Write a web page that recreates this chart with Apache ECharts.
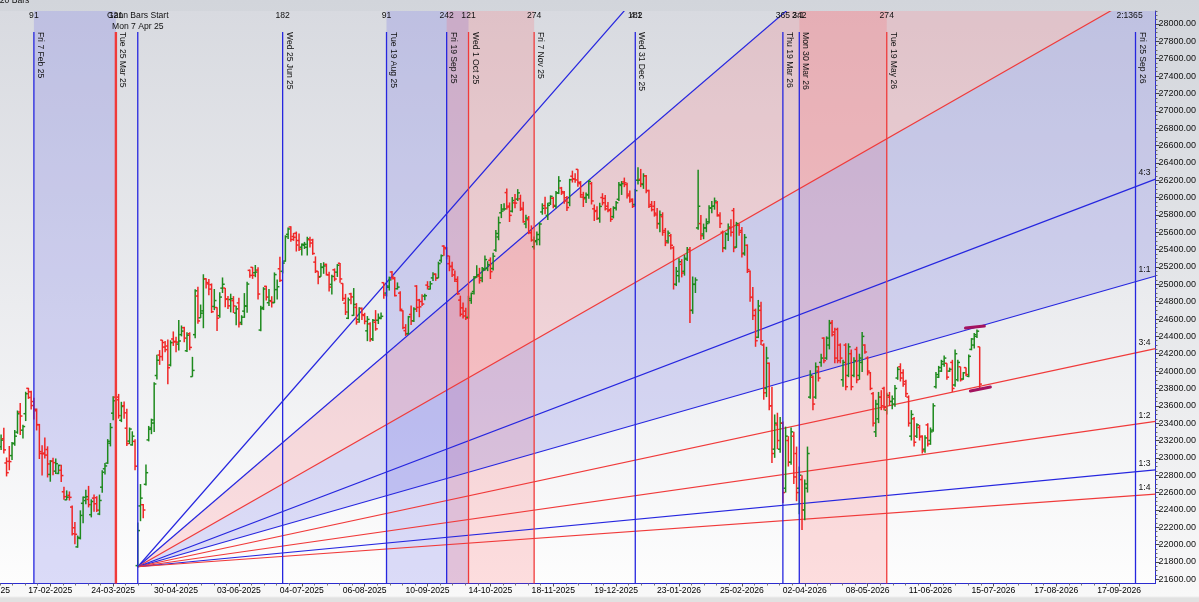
<!DOCTYPE html>
<html>
<head>
<meta charset="utf-8">
<title>Nifty Gann fan</title>
<script src="https://cdn.jsdelivr.net/npm/echarts@6.0.0/dist/echarts.min.js"></script>
<style>
  html, body { margin: 0; padding: 0; }
  body { width: 1199px; height: 602px; background: linear-gradient(to bottom, #d2d5db 0px, #f8f8f8 596px, #e1e1e1 598px, #e1e1e1 602px); }
  #chart { width: 1199px; height: 602px; }
</style>
</head>
<body>
<div id="chart"></div>
<script>
// daily OHLC bars, index 0 = first bar on the left (23 Jan 2025)
const opens = [
  23128,23220,22941,22960,23026,23169,23296,23528,23319,23509,
  23801,23761,23649,23543,23383,23050,23055,23096,22809,22963,
  22847,22821,22857,22609,22516,22568,22433,22194,21974,22073,
  22476,22508,22521,22345,22536,22541,22353,22662,22874,22940,
  23168,23515,23700,23700,23433,23600,23342,23193,23150,23190,
  21758,22446,22460,22695,23207,23344,23401,23949,24185,24357,
  24277,24289,24070,24370,24342,24311,24420,24500,24234,24431,
  23936,24420,24865,24614,24694,25064,25005,24996,24745,24733,
  24639,24956,24957,24832,24825,24812,24669,24786,24561,24691,
  24749,25161,25196,25134,25164,24473,24733,24977,24788,24803,
  24787,24939,25179,25150,25268,25576,25661,25551,25588,25505,
  25428,25450,25427,25514,25511,25256,25149,25089,25196,25230,
  25108,24999,25167,25140,25243,25010,24783,24609,24890,24642,
  24734,24596,24721,24641,24464,24544,24372,24563,24586,24607,
  25019,24899,24966,25142,25065,24949,24899,24695,24466,24432,
  24653,24579,24980,24819,24802,24864,24991,24945,25074,25118,
  25073,25276,25441,25410,25238,25209,25108,25035,24818,24729,
  24691,24620,24815,24917,25086,25094,25074,25168,25181,25277,
  25182,25394,25546,25824,25867,26057,25902,25843,25939,25982,
  25985,25863,25696,25744,25594,25433,25503,25517,25834,25907,
  25794,25936,25992,25900,26054,26110,26053,25998,25943,26246,
  26213,26325,26160,26005,26000,26030,26160,25870,25850,25760,
  26000,25990,25900,25860,25780,25880,25980,26140,26180,26150,
  26040,25980,25920,26200,26210,26150,26250,26080,25920,25900,
  25800,25700,25780,25620,25500,25560,25420,25000,25100,25230,
  25150,25290,25400,24700,25000,25650,25700,25580,25650,25720,
  25880,25900,25940,25790,25600,25420,25580,25650,25850,25430,
  25680,25620,25360,25450,25150,24850,24700,24390,24700,24300,
  23800,24090,23600,23100,23380,23100,23400,22650,23200,22950,
  23250,23050,22650,22750,22400,22650,23700,23930,23700,24000,
  24100,24380,24150,24300,24560,24450,24480,24300,23900,24300,
  23950,24200,23950,24250,23950,24100,24300,24150,23980,23740,
  23300,23450,23700,23800,23550,23700,23650,23620,23920,24050,
  23980,23880,23700,23250,23450,23250,23350,23250,23100,23380,
  23200,23320,23820,23930,24000,24080,24090,24000,24100,23840,
  23900,24050,23910,24040,23940,24250,24300,24400,24280
];
const highs = [
  23270,23348,23005,23137,23183,23322,23546,23632,23381,23762,
  23807,23773,23694,23569,23391,23144,23236,23133,22974,23000,
  22993,22923,22922,22668,22625,22613,22450,22262,22105,22395,
  22556,22633,22677,22522,22577,22558,22577,22858,22941,23216,
  23402,23709,23760,23737,23646,23649,23565,23350,23306,23214,
  22255,22698,22468,22924,23368,23452,23872,24189,24242,24359,
  24347,24365,24355,24457,24396,24589,24526,24510,24449,24447,
  24164,24944,24973,24767,25116,25070,25062,25010,24946,24737,
  24909,25079,24958,24864,24892,24864,24754,24845,24644,24899,
  25030,25170,25199,25223,25196,24754,24967,24983,24947,24863,
  25137,25057,25318,25266,25565,25655,25669,25593,25608,25587,
  25470,25489,25549,25548,25525,25322,25151,25245,25255,25238,
  25144,25111,25183,25233,25246,25011,24890,24848,24902,24957,
  24784,24736,24733,24672,24634,24562,24600,24703,24664,24674,
  25020,24992,25089,25154,25084,25022,24920,24702,24541,24636,
  24756,24737,24990,24832,24885,24892,25036,25037,25139,25125,
  25261,25345,25449,25428,25331,25261,25160,25093,24869,24791,
  24731,24868,24904,25095,25220,25190,25199,25331,25267,25310,
  25365,25625,25781,25926,25935,26104,25944,26006,26041,26097,
  26033,25953,25803,25787,25679,25551,25609,25715,25934,26010,
  25940,26025,26008,26075,26247,26123,26075,26018,26216,26310,
  26280,26326,26190,26066,26059,26202,26180,25920,25900,25940,
  26050,26030,25950,25880,25900,25960,26180,26190,26230,26170,
  26080,25990,26100,26350,26330,26280,26260,26090,25960,25960,
  25880,25850,25830,25650,25620,25580,25440,25200,25300,25290,
  25340,25430,25430,25090,25080,26320,25800,25700,25760,25910,
  25960,26000,25960,25830,25620,25600,25700,25750,25880,25720,
  25700,25660,25580,25460,25160,24970,24720,24820,24800,24320,
  24280,24100,23820,23500,23520,23470,23420,23360,23250,23350,
  23300,23130,22900,22800,22750,23130,24010,23950,24100,24060,
  24200,24390,24400,24590,24590,24500,24500,24320,24130,24320,
  24320,24250,24160,24280,24200,24450,24310,24170,23990,23760,
  23670,23760,23780,23820,23750,23760,23720,23840,24050,24090,
  24020,23900,23720,23550,23470,23400,23380,23260,23260,23400,
  23350,23630,23990,24060,24130,24180,24090,24040,24130,24250,
  24130,24050,23990,24040,24190,24380,24440,24480,24280
];
const lows = [
  23090,23050,22786,22857,22976,23139,23277,23264,23222,23424,
  23680,23556,23443,23316,22987,22798,22993,22774,22725,22801,
  22814,22812,22721,22518,22513,22508,22105,22004,21964,22060,
  22245,22464,22429,22314,22380,22377,22340,22599,22807,22930,
  23132,23433,23601,23452,23412,23450,23136,23158,23140,22857,
  21743,22270,22303,22680,23190,23273,23299,23903,24072,24119,
  24216,23848,24054,24290,24216,24238,24400,24331,24220,24240,
  23935,24378,24547,24613,24494,24953,24875,24669,24702,24463,
  24614,24900,24736,24717,24677,24669,24527,24502,24530,24613,
  24671,25077,25063,25082,24825,24460,24703,24813,24750,24733,
  24784,24825,25026,25126,25260,25523,25490,25501,25378,25384,
  25332,25407,25332,25424,25340,25130,25001,25088,25121,25102,
  24918,24882,25035,25085,25018,24807,24646,24599,24771,24636,
  24535,24556,24590,24539,24345,24338,24347,24465,24543,24597,
  24835,24859,24928,25055,24860,24940,24689,24481,24405,24420,
  24532,24567,24681,24621,24751,24815,24940,24940,25038,25040,
  25071,25250,25330,25287,25151,25084,25027,24878,24629,24606,
  24588,24605,24775,24882,25076,25008,25024,25156,25152,25061,
  25160,25376,25508,25763,25848,25862,25718,25828,25876,25960,
  25845,25711,25645,25578,25492,25400,25449,25449,25802,25809,
  25740,25913,25876,25875,26040,26030,25930,25845,25900,26173,
  26172,26124,25997,25891,25938,25985,25920,25730,25740,25710,
  25910,25850,25830,25720,25760,25850,25960,26030,26120,25990,
  25940,25880,25900,26150,26120,26100,26050,25880,25840,25780,
  25640,25600,25560,25440,25470,25400,24940,24980,25020,25080,
  25100,25270,24555,24660,24900,25630,25510,25520,25600,25700,
  25820,25860,25780,25650,25370,25400,25500,25550,25370,25420,
  25560,25310,25330,25130,24800,24590,24280,24380,24300,23670,
  23700,23550,22940,23000,23100,23060,22480,22600,22900,22920,
  22700,22500,22350,22170,22280,22600,23680,23550,23680,23880,
  24050,24090,24130,24250,24400,24090,24090,24090,23820,23780,
  23930,23780,23930,23860,23900,23990,24200,23950,23780,23360,
  23240,23400,23550,23550,23500,23600,23560,23590,23900,23880,
  23820,23700,23360,23200,23130,23230,23200,23050,23060,23130,
  23150,23300,23800,23920,23990,24050,23900,23990,23760,23820,
  23880,23880,23900,23940,23930,24240,24260,24380,23800
];
const closes = [
  23205,23092,22829,22957,23163,23250,23508,23482,23361,23739,
  23696,23603,23560,23382,23072,23046,23032,22930,22960,22945,
  22933,22913,22796,22553,22547,22545,22125,22119,22083,22337,
  22545,22553,22461,22497,22471,22397,22509,22834,22907,23191,
  23350,23658,23669,23487,23592,23519,23165,23332,23250,22904,
  22162,22536,22399,22829,23329,23437,23852,24125,24167,24329,
  24247,24039,24328,24336,24334,24347,24461,24380,24414,24273,
  24008,24925,24578,24667,25062,25020,24945,24684,24813,24610,
  24853,25001,24827,24752,24834,24751,24717,24543,24621,24751,
  25003,25103,25104,25141,24888,24718,24946,24853,24812,24793,
  25112,24972,25045,25245,25549,25638,25517,25542,25453,25406,
  25461,25461,25523,25476,25355,25150,25082,25196,25212,25112,
  24968,25091,25061,25220,25062,24837,24681,24821,24855,24768,
  24565,24723,24650,24574,24596,24363,24585,24487,24619,24631,
  24877,24980,25051,25083,24870,24968,24712,24501,24427,24625,
  24580,24715,24734,24741,24773,24869,24973,25006,25114,25069,
  25239,25330,25424,25327,25203,25170,25057,24891,24655,24635,
  24611,24836,24895,25077,25108,25046,25182,25285,25227,25146,
  25324,25586,25710,25844,25869,25891,25795,25966,25936,26054,
  25878,25722,25763,25598,25510,25492,25574,25695,25876,25879,
  25910,26013,25910,26052,26192,26068,25960,25885,26205,26216,
  26203,26176,26032,25986,26034,26186,25961,25840,25758,25898,
  25940,25870,25850,25750,25880,25940,26150,26160,26170,26020,
  25960,25900,26080,26200,26160,26250,26080,25900,25860,25820,
  25700,25800,25600,25480,25590,25450,25000,25150,25260,25130,
  25300,25400,24700,25000,25050,25900,25560,25650,25700,25880,
  25900,25960,25800,25700,25420,25580,25660,25600,25420,25700,
  25600,25350,25540,25170,24850,24640,24350,24750,24350,23750,
  24150,23600,23050,23400,23200,23400,22600,23250,22950,23300,
  22780,22600,22800,22400,22700,23050,23950,23620,24050,23920,
  24150,24120,24380,24550,24420,24150,24120,24150,24100,23820,
  24280,23820,24120,23900,24150,24400,24220,24000,23800,23400,
  23620,23700,23600,23580,23720,23650,23680,23800,24020,23920,
  23850,23740,23400,23500,23180,23380,23240,23080,23230,23160,
  23300,23600,23960,24040,24110,24150,23930,24020,23800,24200,
  24100,23900,23980,23960,24170,24370,24420,24460,23850
];

// x axis: date labels and the bar index each one sits under
const dateTickIdx = [18, 41, 64, 87, 110, 133, 156, 179, 202, 225, 248, 271, 294, 317, 340, 363, 386, 409];
const dateTicks = ['17-02-2025', '24-03-2025', '30-04-2025', '03-06-2025', '04-07-2025', '06-08-2025',
  '10-09-2025', '14-10-2025', '18-11-2025', '19-12-2025', '23-01-2026', '25-02-2026',
  '02-04-2026', '08-05-2026', '11-06-2026', '15-07-2026', '17-08-2026', '17-09-2026'];
const cutTick = '13-01-2025';   // label half off the left edge
// y axis labels
const priceTicks = [21600, 21800, 22000, 22200, 22400, 22600, 22800, 23000, 23200, 23400, 23600,
  23800, 24000, 24200, 24400, 24600, 24800, 25000, 25200, 25400, 25600, 25800, 26000,
  26200, 26400, 26600, 26800, 27000, 27200, 27400, 27600, 27800, 28000];

// time cycle lines
const cycleIdx = [12, 42, 50, 103, 141, 163, 171, 195, 232, 286, 292, 324, 415];
const cycleText = ['Fri 7 Feb 25', 'Tue 25 Mar 25', '', 'Wed 25 Jun 25', 'Tue 19 Aug 25', 'Fri 19 Sep 25',
  'Wed 1 Oct 25', 'Fri 7 Nov 25', 'Wed 31 Dec 25', 'Thu 19 Mar 26', 'Mon 30 Mar 26', 'Tue 19 May 26', 'Fri 25 Sep 26'];
const cycleCount = ['91', '121', '', '182', '91', '242', '121', '274', '182', '365', '242', '274', '365'];
const cycleRed = [0, 1, 0, 0, 0, 0, 1, 1, 0, 0, 0, 1, 0];
const gannLabel = ['Gann Bars Start', 'Mon 7 Apr 25'];
// shaded cycle windows, [from bar, to bar]
const blueWindows = [[12, 42], [141, 171]];
const redWindows = [[163, 195], [292, 324]];

// gann fan from the 7 Apr 25 low
const gannStart = [50, 21745];
const gannUnit = 9;   // points per bar on the 1:1 line
const fanNames = ['4:1', '3:1', '2:1', '4:3', '1:1', '3:4', '1:2', '1:3', '1:4'];
const fanRatio = [4, 3, 2, 4 / 3, 1, 0.75, 0.5, 1 / 3, 0.25];
const fanRed = [0, 0, 1, 0, 0, 1, 1, 0, 1];
const fanFills = [[1, 2], [2, 4]];   // shaded wedges between two fan lines

// two short marks by the last bars [bar1, price1, bar2, price2]
const marks = [[352.8, 24496, 359.7, 24519], [354.6, 23770, 361.9, 23816]];

const FONT = '8.6px "Liberation Sans", Arial, sans-serif';
const X_MIN = -0.4, X_MAX = 422.3;
const Y_MIN = 21552, Y_MAX = 28150;
const BLUE = '#2626df', RED = '#f03a3a';
const UP = '#1e8a1e', DOWN = '#f02626';
const AXIS = '#2b2bcf';
const fillColors = ['rgba(255,95,105,0.19)', 'rgba(95,95,230,0.2)'];

const chart = echarts.init(document.getElementById('chart'));

const fanValueAt = (m, i) => gannStart[1] + gannUnit * m * (i - gannStart[0]);

function renderWindow(params, api) {
  const a = api.coord([api.value(0), Y_MAX]);
  const b = api.coord([api.value(1), Y_MIN]);
  return {
    type: 'rect',
    shape: { x: a[0], y: a[1], width: b[0] - a[0], height: b[1] - a[1] },
    style: { fill: api.value(2) ? 'rgba(255,95,100,0.2)' : 'rgba(95,95,230,0.21)' }
  };
}

function renderFanFill(params, api) {
  const f = fanFills[params.dataIndex];
  const p0 = api.coord(gannStart);
  const pa = api.coord([X_MAX, fanValueAt(fanRatio[f[0]], X_MAX)]);
  const pb = api.coord([X_MAX, fanValueAt(fanRatio[f[1]], X_MAX)]);
  return { type: 'polygon', shape: { points: [p0, pa, pb] }, style: { fill: fillColors[params.dataIndex] } };
}

function renderFan(params, api) {
  const k = params.dataIndex;
  const m = fanRatio[k];
  const p0 = api.coord(gannStart);
  const endV = fanValueAt(m, X_MAX);
  const p1 = api.coord([X_MAX, endV]);
  let lx, ly, align;
  if (endV > Y_MAX) {
    // leaves through the top: label just right of the exit point
    const pe = api.coord([gannStart[0] + (Y_MAX - gannStart[1]) / (gannUnit * m), Y_MAX]);
    lx = pe[0] + 6; ly = pe[1] + 5; align = 'left';
  } else {
    lx = p1[0] - 5; ly = p1[1] - 6; align = 'right';
  }
  return {
    type: 'group',
    children: [
      { type: 'line', shape: { x1: p0[0], y1: p0[1], x2: p1[0], y2: p1[1] },
        style: { stroke: fanRed[k] ? RED : BLUE, lineWidth: 1.2 } },
      { type: 'text', x: lx, y: ly,
        style: { text: fanNames[k], font: FONT, fill: '#111', align: align, verticalAlign: 'middle' } }
    ]
  };
}

function renderBar(params, api) {
  const i = api.value(0);
  const o = api.value(1), c = api.value(4);
  const hi = api.coord([i, api.value(2)]);
  const lo = api.coord([i, api.value(3)]);
  const po = api.coord([i, o]);
  const pc = api.coord([i, c]);
  const st = { stroke: c >= o ? UP : DOWN, lineWidth: 1.5 };
  return {
    type: 'group',
    children: [
      { type: 'line', shape: { x1: hi[0], y1: hi[1], x2: lo[0], y2: lo[1] }, style: st },
      { type: 'line', shape: { x1: po[0] - 2.2, y1: po[1], x2: po[0], y2: po[1] }, style: st },
      { type: 'line', shape: { x1: pc[0], y1: pc[1], x2: pc[0] + 2.2, y2: pc[1] }, style: st }
    ]
  };
}

function renderCycle(params, api) {
  const k = params.dataIndex;
  const cs = params.coordSys;
  const x = api.coord([cycleIdx[k], Y_MAX])[0];
  const kids = [{
    type: 'line', shape: { x1: x, y1: cs.y + 21, x2: x, y2: cs.y + cs.height },
    style: { stroke: cycleRed[k] ? RED : BLUE, lineWidth: k === 1 ? 2.4 : 1.3 }
  }];
  if (cycleCount[k]) {
    kids.push({ type: 'text', x: x, y: cs.y + 5,
      style: { text: cycleCount[k], font: FONT, fill: '#111', align: 'center', verticalAlign: 'middle' } });
  }
  if (cycleText[k]) {
    kids.push({ type: 'text', x: x + 2, y: cs.y + 21, rotation: -Math.PI / 2,
      style: { text: cycleText[k], font: FONT, fill: '#111', align: 'left', verticalAlign: 'bottom' } });
  } else {
    kids.push({ type: 'text', x: x, y: cs.y + 5,
      style: { text: gannLabel[0], font: FONT, fill: '#111', align: 'center', verticalAlign: 'middle' } });
    kids.push({ type: 'text', x: x, y: cs.y + 16,
      style: { text: gannLabel[1], font: FONT, fill: '#111', align: 'center', verticalAlign: 'middle' } });
  }
  return { type: 'group', children: kids };
}

function renderMark(params, api) {
  const m = marks[params.dataIndex];
  const a = api.coord([m[0], m[1]]);
  const b = api.coord([m[2], m[3]]);
  return { type: 'line', shape: { x1: a[0], y1: a[1], x2: b[0], y2: b[1] },
    style: { stroke: '#a3135f', lineWidth: 3, lineCap: 'round' } };
}

// small ticks between the date labels, and between the price labels
const weekTicks = [];
dateTickIdx.forEach(v => { for (let j = 1; j < 5; j++) weekTicks.push(v - 4.6 * j); });
const minorPrice = [];
priceTicks.forEach(v => { for (let j = 1; j < 4; j++) minorPrice.push(v + 50 * j); });

const option = {
  animation: false,
  backgroundColor: 'transparent',
  grid: {
    left: 0, right: 40.5, top: 11, bottom: 18.5, show: true, borderWidth: 0,
    backgroundColor: new echarts.graphic.LinearGradient(0, 0, 0, 1, [
      { offset: 0, color: '#d8dae0' }, { offset: 1, color: '#fdfdfd' }])
  },
  xAxis: [{
    type: 'value', min: X_MIN, max: X_MAX, position: 'bottom',
    splitLine: { show: false },
    axisLine: { show: true, onZero: false, lineStyle: { color: AXIS, width: 1 } },
    axisTick: { show: true, customValues: dateTickIdx, length: 3, lineStyle: { color: '#555' } },
    axisLabel: {
      customValues: dateTickIdx, margin: 3, color: '#000', fontSize: 8.6, fontFamily: 'Liberation Sans',
      formatter: v => dateTicks[dateTickIdx.indexOf(v)] || ''
    }
  }, {
    type: 'value', min: X_MIN, max: X_MAX, position: 'bottom',
    splitLine: { show: false }, axisLabel: { show: false },
    axisLine: { show: false, onZero: false },
    axisTick: { show: true, customValues: weekTicks, length: 2, lineStyle: { color: '#777' } }
  }],
  yAxis: [{
    type: 'value', min: Y_MIN, max: Y_MAX, position: 'right',
    splitLine: { show: false },
    axisLine: { show: true, onZero: false, lineStyle: { color: AXIS, width: 1 } },
    axisTick: { show: true, customValues: priceTicks, length: 4, lineStyle: { color: '#444' } },
    axisLabel: {
      customValues: priceTicks, margin: 3, color: '#111', fontSize: 9, fontFamily: 'Liberation Sans',
      formatter: v => v.toFixed(2)
    }
  }, {
    type: 'value', min: Y_MIN, max: Y_MAX, position: 'right',
    splitLine: { show: false }, axisLabel: { show: false },
    axisLine: { show: false, onZero: false },
    axisTick: { show: true, customValues: minorPrice, length: 2, lineStyle: { color: '#666' } }
  }],
  graphic: [{
    type: 'text', left: -5, top: -4,
    style: { text: '120 Bars', font: FONT, fill: '#111' }
  }, {
    type: 'text', left: -34, top: 586,
    style: { text: cutTick, font: FONT, fill: '#000' }
  }],
  series: [
    {
      type: 'custom', name: 'windows', renderItem: renderWindow, z: 1, silent: true,
      data: blueWindows.map(w => [w[0], w[1], 0]).concat(redWindows.map(w => [w[0], w[1], 1])),
      encode: { x: [0, 1] }
    },
    {
      type: 'custom', name: 'fan fills', renderItem: renderFanFill, z: 2, clip: true, silent: true,
      data: fanFills.map(() => gannStart.slice()), encode: { x: 0, y: 1 }
    },
    {
      type: 'custom', name: 'gann fan', renderItem: renderFan, z: 3, clip: true, silent: true,
      data: fanNames.map(() => gannStart.slice()), encode: { x: 0, y: 1 }
    },
    {
      type: 'custom', name: 'bars', renderItem: renderBar, z: 4, silent: true,
      data: opens.map((o, i) => [i, o, highs[i], lows[i], closes[i]]),
      encode: { x: 0, y: [2, 3] }
    },
    {
      type: 'custom', name: 'cycles', renderItem: renderCycle, z: 5, silent: true,
      data: cycleIdx.map(v => [v, Y_MAX]), encode: { x: 0, y: 1 }
    },
    {
      type: 'custom', name: 'marks', renderItem: renderMark, z: 6, silent: true,
      data: marks.map(m => [m[0], m[1]]), encode: { x: 0, y: 1 }
    }
  ]
};

chart.setOption(option);
</script>
</body>
</html>
